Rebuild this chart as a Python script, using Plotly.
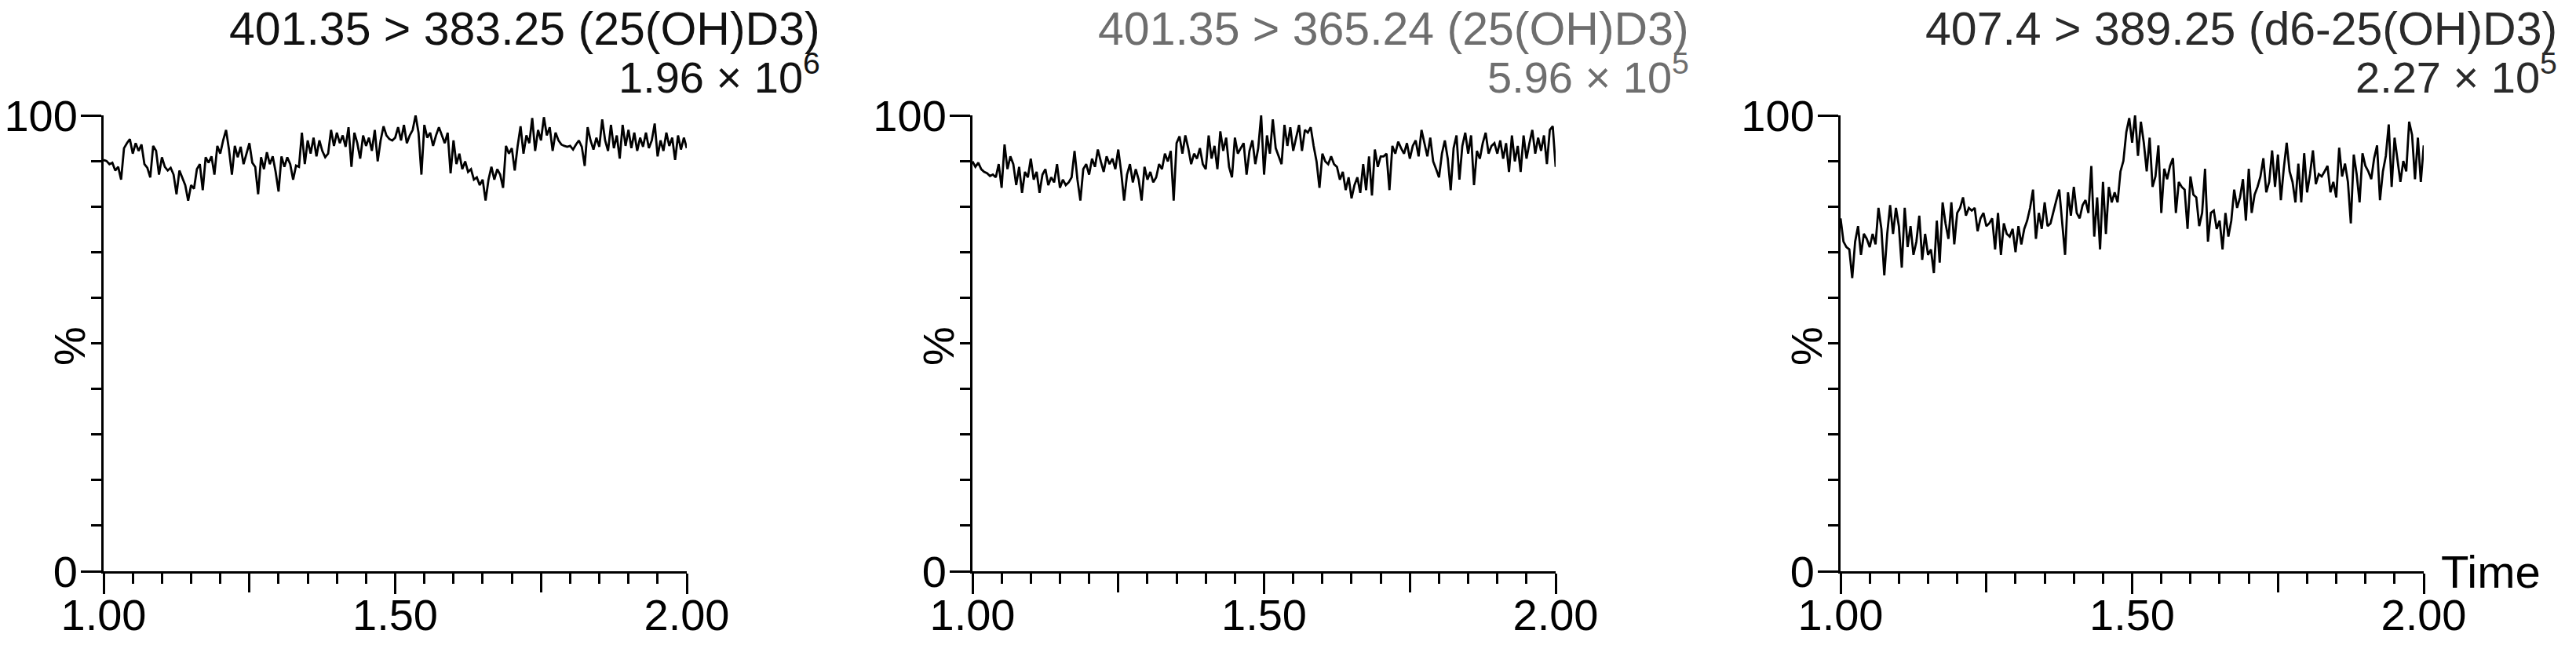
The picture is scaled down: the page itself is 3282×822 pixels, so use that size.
import numpy as np
import plotly.graph_objects as go

# scan times (min), same for the three MRM channels
scan_time = np.round(np.linspace(1.0, 2.0, 201), 3)

# relative intensity (%)
y_383 = [90.2, 90.0, 89.3, 89.6, 87.9, 88.7, 85.9, 92.8, 93.9, 94.8, 91.6, 93.9, 92.2, 93.6, 89.3, 88.5, 86.4, 93.3, 92.2, 87.0, 90.8,
         88.7, 87.9, 88.5, 87.0, 82.7, 87.9, 86.4, 84.7, 81.3, 84.7, 83.9, 88.2, 89.3, 83.6, 90.8, 89.6, 91.0, 87.0, 93.3, 91.6,
         94.5, 96.8, 92.5, 87.0, 93.3, 90.8, 93.1, 89.3, 91.6, 93.9, 89.6, 88.7, 82.7, 90.8, 88.2, 91.9, 89.3, 91.0, 87.6, 83.3,
         91.0, 88.7, 90.8, 89.3, 85.9, 89.0, 88.7, 96.2, 89.3, 94.5, 91.6, 95.1, 91.0, 94.5, 92.2, 90.8, 91.6, 96.8, 93.3, 96.2,
         93.9, 95.6, 93.1, 97.4, 88.7, 96.2, 93.9, 90.5, 95.6, 93.3, 95.1, 92.2, 96.8, 89.9, 94.5, 97.6, 95.6, 94.8, 94.5, 95.1,
         97.4, 94.5, 97.9, 93.9, 95.6, 96.8, 100.0, 96.2, 87.0, 97.9, 95.1, 96.2, 93.3, 95.6, 97.4, 95.6, 93.9, 96.2, 87.3, 94.5,
         89.3, 91.6, 88.2, 89.9, 87.6, 88.2, 85.9, 86.4, 84.7, 85.9, 81.3, 85.9, 88.7, 85.9, 88.2, 87.0, 84.1, 93.3, 91.6, 92.8,
         87.9, 93.3, 97.6, 91.6, 95.6, 93.9, 99.4, 92.2, 96.8, 94.5, 99.6, 95.6, 97.4, 92.2, 96.2, 94.5, 93.6, 93.3, 93.1, 93.3,
         92.5, 93.6, 94.5, 93.1, 88.9, 97.4, 94.5, 92.5, 95.1, 93.1, 99.1, 94.5, 92.2, 97.9, 92.8, 95.6, 90.5, 97.9, 93.3, 96.8,
         92.8, 96.2, 92.2, 95.1, 93.1, 96.2, 92.8, 94.5, 98.2, 91.0, 94.5, 92.2, 96.2, 93.3, 95.1, 90.2, 95.6, 92.5, 95.1, 92.8]

y_365 = [89.9, 88.7, 89.6, 88.2, 87.6, 87.3, 86.7, 87.0, 86.4, 89.3, 84.1, 93.6, 88.2, 91.0, 89.3, 84.7, 88.7, 83.0, 87.6, 86.4, 90.5,
         85.9, 87.6, 83.0, 87.0, 88.2, 84.7, 86.4, 85.3, 89.3, 84.1, 85.9, 84.7, 85.3, 86.4, 92.2, 85.9, 81.3, 88.2, 89.3, 87.0,
         90.5, 88.7, 92.5, 89.9, 87.6, 91.0, 89.3, 90.5, 88.2, 92.5, 87.6, 81.3, 87.0, 89.3, 85.3, 88.2, 85.9, 81.3, 88.7, 85.9,
         87.6, 85.3, 86.4, 89.3, 88.2, 91.6, 89.9, 92.2, 81.3, 93.9, 95.4, 91.6, 95.6, 92.8, 89.3, 91.6, 90.5, 92.8, 89.3, 88.2,
         95.6, 90.5, 93.3, 88.2, 96.5, 92.2, 95.1, 88.7, 86.4, 95.1, 91.6, 92.8, 93.9, 87.0, 92.2, 94.5, 89.3, 92.8, 100.0, 87.0,
         95.6, 91.6, 99.1, 92.8, 91.0, 89.3, 97.9, 93.3, 97.4, 92.2, 95.1, 97.9, 92.2, 96.8, 96.2, 97.4, 93.3, 89.9, 84.1, 91.6,
         89.9, 89.3, 91.0, 89.3, 88.7, 85.9, 87.6, 83.6, 86.4, 81.8, 84.7, 86.4, 83.0, 89.3, 83.6, 91.0, 82.4, 92.5, 88.7, 91.0,
         91.0, 91.6, 83.6, 93.3, 91.6, 94.2, 92.8, 91.6, 93.9, 90.5, 93.3, 94.5, 91.0, 96.8, 93.9, 91.0, 95.1, 89.9, 88.2, 86.4,
         91.6, 94.5, 90.5, 83.6, 92.8, 95.6, 85.9, 93.3, 96.2, 91.6, 95.6, 84.7, 92.2, 90.5, 93.9, 96.2, 91.6, 93.3, 93.9, 91.6,
         94.5, 90.5, 93.9, 87.6, 95.6, 89.9, 93.3, 87.6, 95.6, 90.5, 93.9, 96.8, 91.6, 95.1, 92.2, 95.6, 89.3, 96.8, 97.6, 88.7]

y_389 = [77.4, 72.3, 71.1, 70.6, 64.3, 72.3, 75.7, 69.4, 74.0, 72.9, 71.1, 74.0, 71.7, 79.7, 75.1, 64.9, 74.0, 80.3, 74.0, 79.7, 75.7,
         66.6, 79.7, 71.1, 75.7, 69.4, 72.3, 78.0, 68.3, 74.0, 69.4, 70.6, 65.4, 76.9, 67.7, 80.9, 76.3, 72.9, 80.9, 71.7, 78.6,
         79.7, 82.0, 78.0, 79.7, 79.1, 79.7, 74.6, 77.4, 78.6, 75.7, 76.3, 77.4, 70.6, 78.6, 69.4, 76.3, 74.0, 73.4, 75.1, 70.0,
         75.7, 71.7, 75.1, 76.9, 79.7, 83.7, 72.9, 78.6, 75.1, 80.9, 75.7, 76.3, 79.1, 81.4, 83.7, 76.9, 69.4, 83.1, 78.0, 84.3,
         78.6, 77.4, 80.3, 81.4, 78.6, 88.9, 73.4, 82.0, 70.6, 85.4, 74.0, 84.3, 80.9, 83.1, 80.9, 87.7, 90.0, 96.3, 99.4, 94.0,
         100.0, 91.1, 98.6, 94.0, 87.7, 95.1, 84.3, 86.6, 93.4, 78.6, 88.3, 86.0, 88.9, 90.6, 78.6, 85.4, 84.3, 83.7, 75.1, 86.6,
         82.6, 82.0, 75.7, 78.6, 88.3, 72.3, 78.6, 79.1, 75.1, 76.9, 70.6, 78.6, 73.4, 76.9, 83.7, 79.7, 82.0, 86.0, 76.9, 88.3,
         78.6, 82.6, 84.3, 86.6, 90.6, 83.1, 85.4, 92.3, 84.3, 91.4, 81.4, 88.3, 94.0, 87.7, 85.4, 80.9, 89.4, 80.9, 91.7, 83.1,
         87.1, 92.3, 84.9, 87.1, 86.6, 87.7, 88.9, 83.1, 85.4, 82.0, 92.9, 86.6, 89.4, 85.4, 76.3, 91.4, 87.1, 80.9, 91.7, 88.9,
         87.7, 86.0, 90.6, 93.4, 81.4, 87.7, 91.1, 98.0, 84.3, 95.1, 90.6, 85.4, 90.0, 87.7, 98.6, 95.7, 86.0, 95.1, 85.4, 93.4]

channels = ["401.35 > 383.25 (25(OH)D3)", "401.35 > 365.24 (25(OH)D3)", "407.4 > 389.25 (d6-25(OH)D3)"]
max_counts = ["1.96 × 10<sup>6</sup>", "5.96 × 10<sup>5</sup>", "2.27 × 10<sup>5</sup>"]
series = [y_383, y_365, y_389]

x_labels = [1.0, 1.5, 2.0]
x_mid_ticks = [1.25, 1.75]
x_minor = [1.05, 1.1, 1.15, 1.2, 1.3, 1.35, 1.4, 1.45, 1.55, 1.6, 1.65, 1.7, 1.8, 1.85, 1.9, 1.95]
y_ticks = [0, 100]
y_minor = [10, 20, 30, 40, 50, 60, 70, 80, 90]

for s in series:
    assert len(s) == len(scan_time), len(s)

# the page body keeps an 8px margin, so the figure is shrunk to fit the window
OFF = 8
W, H = 3282 - 2 * OFF, 822 - 2 * OFF
FONT = "Arial, Liberation Sans, sans-serif"
title_colors = ["#111111", "#6e6e6e", "#2a2a2a"]


def px(x):
    return (x - OFF) / W


def py(y):
    return 1 - (y - OFF) / H


# panel placement in window pixels
axis_left = [132, 1239, 2345]
axis_w = 743
y_top, y_bot = 147, 728

fig = go.Figure()
layout = dict(width=W, height=H, margin=dict(l=0, r=0, t=0, b=0, autoexpand=False),
              paper_bgcolor="white", plot_bgcolor="white", showlegend=False,
              font=dict(family=FONT, color="black"))
annotations = []
tick_style = dict(ticks="outside", tickwidth=3, tickcolor="black")

for i, (name, counts, y) in enumerate(zip(channels, max_counts, series)):
    k = "" if i == 0 else str(i + 1)
    kk = str(i + 4)  # overlay axis carrying the unlabeled 1.25 / 1.75 ticks
    fig.add_trace(go.Scatter(x=scan_time, y=y, mode="lines", xaxis="x" + k, yaxis="y" + k,
                             line=dict(color="black", width=2.8), hoverinfo="skip"))
    fig.add_trace(go.Scatter(x=[None], y=[None], mode="lines", xaxis="x" + kk, yaxis="y" + k,
                             hoverinfo="skip"))
    x0 = px(axis_left[i])
    x1 = px(axis_left[i] + axis_w)
    layout["xaxis" + k] = dict(
        domain=[x0, x1], range=[1.0, 2.0], anchor="y" + k, automargin=False,
        showline=True, linewidth=3, linecolor="black", showgrid=False, zeroline=False,
        ticklen=26, tickmode="array", tickvals=x_labels, ticktext=["1.00", "1.50", "2.00"],
        tickfont=dict(size=56, color="black", family=FONT), ticklabelstandoff=-21,
        minor=dict(tickmode="array", tickvals=x_minor, ticklen=13, **tick_style),
        **tick_style)
    layout["xaxis" + kk] = dict(
        domain=[x0, x1], range=[1.0, 2.0], anchor="y" + k, overlaying="x" + k, side="bottom",
        automargin=False, showline=False, showgrid=False, zeroline=False,
        ticklen=26, tickmode="array", tickvals=x_mid_ticks, showticklabels=False,
        **tick_style)
    layout["yaxis" + k] = dict(
        domain=[py(y_bot), py(y_top)], range=[0, 100], anchor="x" + k, automargin=False,
        showline=True, linewidth=3, linecolor="black", showgrid=False, zeroline=False,
        ticklen=26, tickmode="array", tickvals=y_ticks, ticktext=["0", "100"],
        tickfont=dict(size=56, color="black", family=FONT), ticklabelstandoff=-7,
        minor=dict(tickmode="array", tickvals=y_minor, ticklen=13, **tick_style),
        **tick_style)

    right = px(axis_left[i] + axis_w + 171)
    annotations.append(dict(text=name, x=right, y=py(37), xref="paper", yref="paper",
                            xanchor="right", yanchor="middle", showarrow=False, borderpad=0,
                            font=dict(size=59, color=title_colors[i], family=FONT)))
    annotations.append(dict(text=counts, x=right, y=py(131), xref="paper", yref="paper",
                            xanchor="right", yanchor="bottom", showarrow=False, borderpad=0,
                            font=dict(size=56, color=title_colors[i], family=FONT)))
    annotations.append(dict(text="%", x=px(axis_left[i] - 44), y=py(441),
                            xref="paper", yref="paper", textangle=-90, showarrow=False,
                            xanchor="center", yanchor="middle",
                            font=dict(size=56, color="black", family=FONT)))

annotations.append(dict(text="Time", x=px(3108), y=py(728), xref="paper", yref="paper",
                        xanchor="left", yanchor="middle", showarrow=False,
                        font=dict(size=58, color="black", family=FONT)))
layout["annotations"] = annotations
fig.update_layout(**layout)

fig.write_html("out.html")
